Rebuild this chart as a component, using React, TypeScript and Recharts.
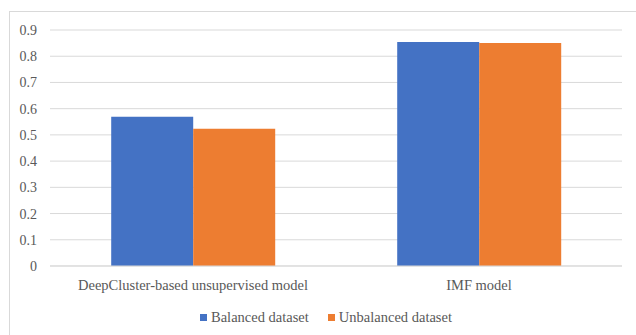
import { Bar, BarChart, CartesianGrid, Legend, XAxis, YAxis } from "recharts";

const categories = ["DeepCluster-based unsupervised model", "IMF model"];
const balanced = [0.569, 0.854];
const unbalanced = [0.523, 0.85];
const yTicks = [0, 0.1, 0.2, 0.3, 0.4, 0.5, 0.6, 0.7, 0.8, 0.9];

const SERIES = [
  { key: "balanced", name: "Balanced dataset", color: "#4472C4" },
  { key: "unbalanced", name: "Unbalanced dataset", color: "#ED7D31" },
];

const data = categories.map((name, i) => ({
  name,
  balanced: balanced[i],
  unbalanced: unbalanced[i],
}));

const FONT = '"Liberation Serif", "Times New Roman", serif';
const TEXT = "#595959";

const renderLegend = () => (
  <div
    style={{
      display: "flex",
      justifyContent: "flex-start",
      alignItems: "center",
      height: 20,
      paddingLeft: 200,
      fontFamily: FONT,
      fontSize: 14.5,
      color: TEXT,
    }}
  >
    {SERIES.map((s) => (
      <div
        key={s.key}
        style={{ display: "flex", alignItems: "center", marginRight: 19 }}
      >
        <span
          style={{
            width: 7,
            height: 7,
            background: s.color,
            marginRight: 4,
            display: "inline-block",
          }}
        />
        <span>{s.name}</span>
      </div>
    ))}
  </div>
);

const App = () => {
  return (
    <div
      style={{
        position: "absolute",
        left: 0,
        top: 0,
        width: 636,
        height: 335,
        overflow: "hidden",
        background: "#fff",
      }}
    >
      <div
        style={{
          position: "absolute",
          left: 9,
          top: 11,
          width: 660,
          height: 360,
          border: "1px solid #d9d9d9",
        }}
      />
      <BarChart
        width={636}
        height={335}
        data={data}
        margin={{ top: 30, right: 14, bottom: 8, left: 0 }}
        barCategoryGap="21.4%"
        barGap={0}
      >
        <CartesianGrid vertical={false} stroke="#d9d9d9" strokeWidth={1} />
        <XAxis
          dataKey="name"
          height={41}
          tickLine={false}
          tickMargin={8}
          axisLine={{ stroke: "#d9d9d9" }}
          tick={{ fill: TEXT, fontFamily: FONT, fontSize: 14.5 }}
        />
        <YAxis
          width={50}
          domain={[0, 0.9]}
          ticks={yTicks}
          axisLine={false}
          tickLine={false}
          tickMargin={7}
          tick={{ fill: TEXT, fontFamily: FONT, fontSize: 14 }}
        />
        <Legend verticalAlign="bottom" content={renderLegend} />
        {SERIES.map((s) => (
          <Bar
            key={s.key}
            dataKey={s.key}
            name={s.name}
            fill={s.color}
            isAnimationActive={false}
          />
        ))}
      </BarChart>
    </div>
  );
};

export default App;
